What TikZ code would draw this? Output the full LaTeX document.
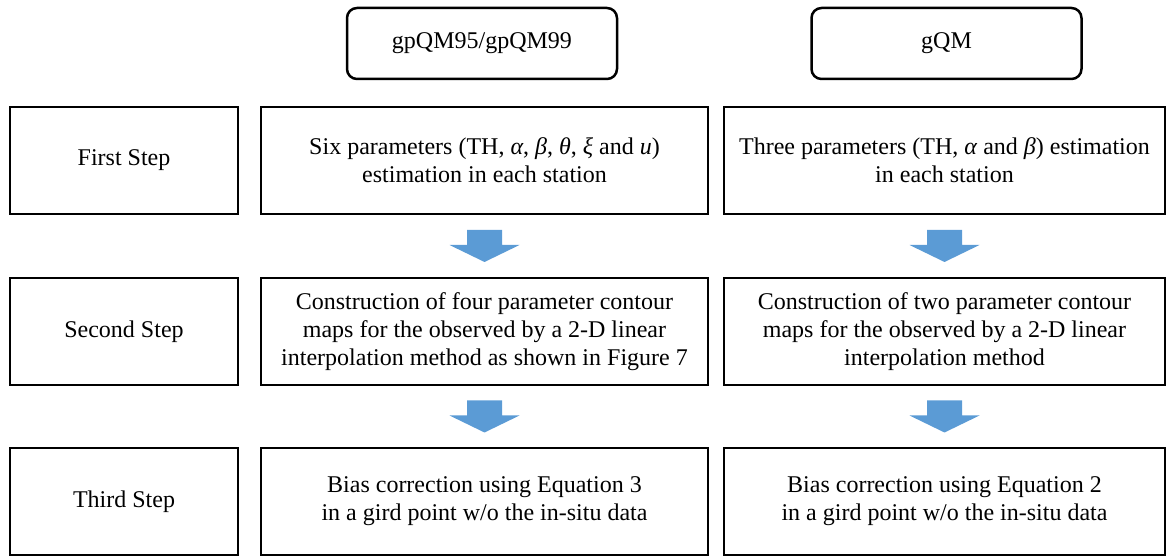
\documentclass[tikz,border=0pt]{standalone}
\usepackage{fontspec}
\setmainfont{Liberation Serif}
\usepackage{tikz}
\usetikzlibrary{calc}
\usetikzlibrary{positioning}
\tikzset{box/.style = {draw, line width = 1.2, minimum height = 107, inner sep = 0, align = center}}
\tikzset{head/.style = {draw, line width = 2.5, rounded corners = 10, minimum width = 270, minimum height = 71}}
\definecolor{ablue}{RGB}{91, 155, 213}
\newcommand{\sym}[1]{\textit{#1}}
\newcommand{\stepflow}[2]{%
  \path ($(#1.south)!0.5!(#2.north)$) coordinate (mid);
  \fill [ablue] ($(mid)+(-17.5,16)$) -- ($(mid)+(17.5,16)$) -- ($(mid)+(17.5,1)$)
    -- ($(mid)+(35,1)$) -- ($(mid)+(0,-16)$) -- ($(mid)+(-35,1)$) -- ($(mid)+(-17.5,1)$) -- cycle;}

\begin{document}
\begin{tikzpicture}[x = 1pt, y = 1pt, font = \fontsize{24}{28}\selectfont]
    \useasboundingbox (0, 0) rectangle (1167, 556);
    % column heads
    \node [head] (gphead) at (482, 512.5) {gpQM95/gpQM99};
    \node [head] (ghead) at (946.5, 512.5) {gQM};
    % first row
    \node [box, minimum width = 228] (step1) at (124, 395.5) {First Step};
    \node [box, minimum width = 447] (gp1) at (484.5, 395.5)
      {Six parameters (TH, \sym{α}, \sym{β}, \sym{θ}, \sym{ξ} and \sym{u})\\estimation in each station};
    \node [box, minimum width = 441] (g1) at (944.5, 395.5)
      {Three parameters (TH, \sym{α} and \sym{β}) estimation\\in each station};
    % second row
    \node [box, minimum width = 228] (step2) at (124, 224.5) {Second Step};
    \node [box, minimum width = 447] (gp2) at (484.5, 224.5)
      {Construction of four parameter contour\\maps for the observed by a 2-D linear\\interpolation method as shown in Figure 7};
    \node [box, minimum width = 441] (g2) at (944.5, 224.5)
      {Construction of two parameter contour\\maps for the observed by a 2-D linear\\interpolation method};
    % third row
    \node [box, minimum width = 228] (step3) at (124, 54.5) {Third Step};
    \node [box, minimum width = 447] (gp3) at (484.5, 54.5)
      {Bias correction using Equation 3\\in a gird point w/o the in-situ data};
    \node [box, minimum width = 441] (g3) at (944.5, 54.5)
      {Bias correction using Equation 2\\in a gird point w/o the in-situ data};
    % block arrows
    \stepflow{gp1}{gp2}
    \stepflow{gp2}{gp3}
    \stepflow{g1}{g2}
    \stepflow{g2}{g3}
  \end{tikzpicture}
\end{document}
